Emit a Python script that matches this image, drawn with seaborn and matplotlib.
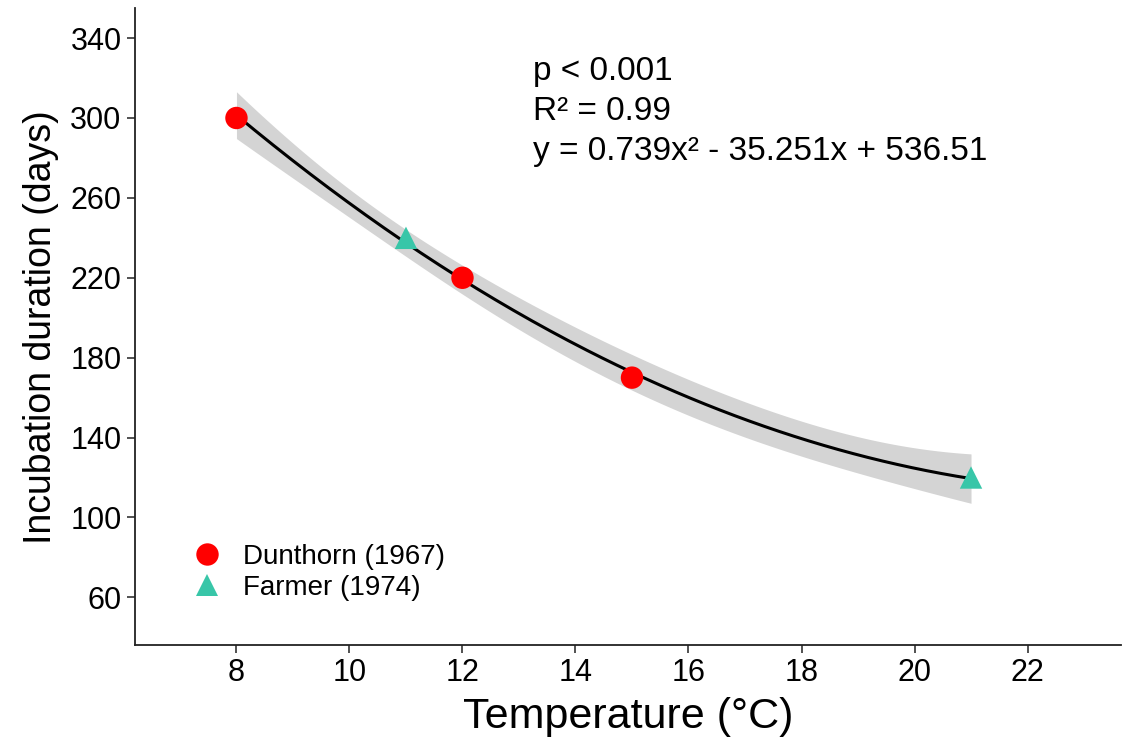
import numpy as np
import pandas as pd
import matplotlib.pyplot as plt
import seaborn as sns

# --- data ---
temp = [8, 12, 15, 11, 21]
days = [300, 220, 170, 240, 120]
source = ["Dunthorn (1967)", "Dunthorn (1967)", "Dunthorn (1967)",
          "Farmer (1974)", "Farmer (1974)"]
source_order = ["Dunthorn (1967)", "Farmer (1974)"]
source_colors = {"Dunthorn (1967)": "#FF0000", "Farmer (1974)": "#38C6A8"}
source_markers = {"Dunthorn (1967)": "o", "Farmer (1974)": "^"}
stats_text = ["p < 0.001", "R\u00b2 = 0.99", "y = 0.739x\u00b2 - 35.251x + 536.51"]

df = pd.DataFrame({"temp": temp, "days": days, "source": source})

sns.set_style("ticks")
plt.rcParams["font.family"] = ["Liberation Sans", "DejaVu Sans"]
plt.rcParams["text.color"] = "black"
plt.rcParams["axes.labelcolor"] = "black"

fig = plt.figure(figsize=(11.23, 7.40), dpi=100)
ax = fig.add_axes([0.120, 0.128, 0.878, 0.861])

# --- quadratic fit with 95% confidence band ---
x = df["temp"].values.astype(float)
y = df["days"].values.astype(float)
X = np.vstack([x**2, x, np.ones_like(x)]).T
beta, res, rank, sv = np.linalg.lstsq(X, y, rcond=None)
resid = y - X @ beta
dof = len(x) - 3
s2 = (resid**2).sum() / dof
cov = s2 * np.linalg.inv(X.T @ X)
xs = np.linspace(x.min(), x.max(), 200)
Xs = np.vstack([xs**2, xs, np.ones_like(xs)]).T
ys = Xs @ beta
se = np.sqrt(np.einsum("ij,jk,ik->i", Xs, cov, Xs))
tval = 4.303  # t(0.975, df=2)
ax.fill_between(xs, ys - tval * se, ys + tval * se, color="#D4D4D4", lw=0, zorder=1)
sns.lineplot(x=xs, y=ys, color="black", lw=2.2, ax=ax, zorder=2)

sns.scatterplot(data=df, x="temp", y="days", hue="source", style="source",
                hue_order=source_order, style_order=source_order,
                palette=source_colors, markers=source_markers,
                s=260, linewidth=0, ax=ax, zorder=3)

ax.set_xlim(6.2, 23.65)
ax.set_ylim(36, 355)
ax.set_xticks([8, 10, 12, 14, 16, 18, 20, 22])
ax.set_yticks([60, 100, 140, 180, 220, 260, 300, 340])
ax.tick_params(labelsize=22, length=6, width=1.2, color="#333333", labelcolor="black")
for sp in ["left", "bottom"]:
    ax.spines[sp].set_linewidth(1.3)
    ax.spines[sp].set_color("#222222")
sns.despine(ax=ax)

ax.set_xlabel("Temperature (\u00b0C)", fontsize=31, labelpad=6)
ax.set_ylabel("Incubation duration (days)", fontsize=27, labelpad=8)

ax.text(13.25, 331, "\n".join(stats_text), fontsize=24, va="top", ha="left",
        linespacing=1.38)

leg = ax.legend(loc="lower left", bbox_to_anchor=(0.02, 0.03), frameon=False,
                fontsize=20, handletextpad=0.3, labelspacing=0.2, markerscale=1.0,
                title=None)

fig.savefig("out.png", dpi=100)
